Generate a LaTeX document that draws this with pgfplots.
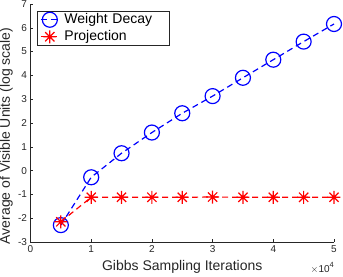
\documentclass[border=0pt]{standalone}
\usepackage{fontspec}
\setmainfont{Liberation Sans}
\usepackage{pgfplots}
\pgfplotsset{compat=1.18}
\definecolor{axgray}{RGB}{38,38,38}
\pgfdeclareplotmark{mstar}{%
  \pgfpathmoveto{\pgfqpoint{0pt}{\pgfplotmarksize}}\pgfpathlineto{\pgfqpoint{0pt}{-\pgfplotmarksize}}%
  \pgfpathmoveto{\pgfqpoint{\pgfplotmarksize}{0pt}}\pgfpathlineto{\pgfqpoint{-\pgfplotmarksize}{0pt}}%
  \pgfpathmoveto{\pgfqpoint{0.707\pgfplotmarksize}{0.707\pgfplotmarksize}}\pgfpathlineto{\pgfqpoint{-0.707\pgfplotmarksize}{-0.707\pgfplotmarksize}}%
  \pgfpathmoveto{\pgfqpoint{-0.707\pgfplotmarksize}{0.707\pgfplotmarksize}}\pgfpathlineto{\pgfqpoint{0.707\pgfplotmarksize}{-0.707\pgfplotmarksize}}%
  \pgfusepathqstroke}
\begin{document}
\begin{tikzpicture}
\begin{axis}[
  name=main,
  scale only axis, width=303.5pt, height=238pt,
  xmin=0, xmax=5, ymin=-3, ymax=7,
  axis x line*=bottom, axis y line*=left,
  axis line style={-, axgray, line width=0.6pt},
  xtick={0,1,2,3,4,5}, ytick={-3,-2,...,7},
  tick align=inside, major tick length=3pt,
  tick style={axgray, line width=0.6pt},
  ticklabel style={font=\fontsize{10}{11}\selectfont, text=axgray},
  /pgf/number format/assume math mode=true,
  xlabel={Gibbs Sampling Iterations},
  ylabel={Average of Visible Units (log scale)},
  label style={font=\fontsize{14}{15}\selectfont, text=axgray},
  xlabel style={yshift=-1pt},
  ylabel style={xshift=-13pt, yshift=-1.5pt},
  legend style={at={(rel axis cs:0.0214,0.9706)}, anchor=north west,
    font=\fontsize{14}{15}\selectfont, draw=axgray, line width=0.5pt,
    inner xsep=3pt, inner ysep=1pt, row sep=2pt, column sep=0pt,
    nodes={inner xsep=5pt, inner ysep=1pt, text height=10pt, text depth=3pt, text width=97pt}},
  legend cell align=left,
  legend image code/.code={\draw[mark repeat=2,mark phase=2] plot coordinates {(0pt,0pt) (9pt,0pt) (18pt,0pt)};},
  clip=false,
]
\addplot[blue, line width=1.2pt, dash pattern=on 6pt off 4pt, mark=o, mark size=7.5pt, mark options={solid}]
 coordinates {(0.5,-2.29) (1,-0.28) (1.5,0.73) (2,1.6) (2.5,2.41) (3,3.13) (3.5,3.9) (4,4.66) (4.5,5.42) (5,6.16)};
\addlegendentry{Weight Decay}
\addplot[red, line width=1.2pt, dash pattern=on 6pt off 4pt, mark=mstar, mark size=6.5pt, mark options={solid}]
 coordinates {(0.5,-2.15) (1,-1.12) (1.5,-1.12) (2,-1.12) (2.5,-1.12) (3,-1.11) (3.5,-1.12) (4,-1.12) (4.5,-1.12) (5,-1.12)};
\addlegendentry{Projection}
\node[anchor=base east, font=\fontsize{10}{11}\selectfont, text=axgray, inner sep=0pt] at ([yshift=-30pt]rel axis cs:1,0) {$\times$10\raisebox{4.5pt}{\fontsize{7.5}{8}\selectfont 4}};
\end{axis}
\pgfresetboundingbox
\useasboundingbox ([xshift=-30.5pt,yshift=-34pt]main.south west) rectangle ([xshift=9pt,yshift=4pt]main.north east);
\end{tikzpicture}
\end{document}
